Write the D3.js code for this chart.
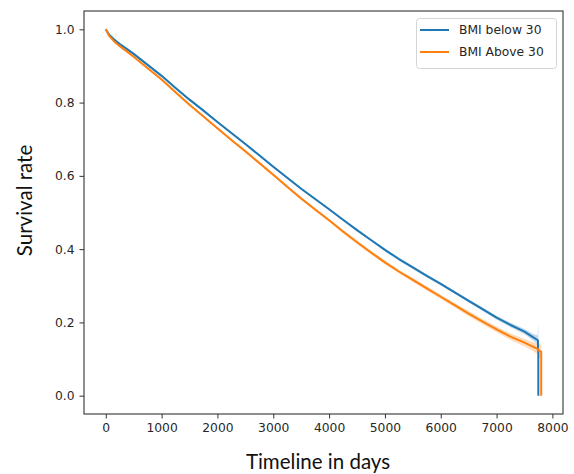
<!DOCTYPE html>
<html>
<head>
<meta charset="utf-8">
<script src="https://cdn.jsdelivr.net/npm/d3@7"></script>
<style>
  html, body { margin: 0; padding: 0; background: #fff; }
  svg { display: block; }
</style>
</head>
<body>
<svg id="chart" width="574" height="474"></svg>
<script>
// ---- Data ----
const xTicks = [0, 1000, 2000, 3000, 4000, 5000, 6000, 7000, 8000];
const yTicks = [0.0, 0.2, 0.4, 0.6, 0.8, 1.0];
const seriesNames = ["BMI below 30", "BMI Above 30"];

const daysBelow30 = [0, 60, 150, 250, 400, 500, 750, 1000, 1250, 1500, 1750, 2000, 2250, 2500, 2750, 3000, 3250, 3500, 3750, 4000, 4250, 4500, 4750, 5000, 5250, 5500, 5750, 6000, 6250, 6500, 6750, 7000, 7250, 7500, 7650, 7735, 7742, 7742, 7748, 7748];
const survBelow30 = [1.000, 0.985, 0.972, 0.960, 0.944, 0.933, 0.903, 0.873, 0.840, 0.808, 0.778, 0.747, 0.717, 0.687, 0.656, 0.625, 0.595, 0.565, 0.537, 0.509, 0.480, 0.452, 0.425, 0.398, 0.373, 0.350, 0.327, 0.305, 0.282, 0.259, 0.236, 0.213, 0.193, 0.175, 0.160, 0.152, 0.150, 0.125, 0.125, 0.000];
const ciBelow30 = [0.000, 0.002, 0.002, 0.003, 0.003, 0.003, 0.003, 0.003, 0.003, 0.003, 0.003, 0.003, 0.003, 0.003, 0.003, 0.003, 0.003, 0.003, 0.003, 0.003, 0.003, 0.003, 0.003, 0.004, 0.004, 0.004, 0.004, 0.004, 0.004, 0.004, 0.005, 0.005, 0.006, 0.007, 0.009, 0.012, 0.030, 0.060, 0.070, 0.000];

const daysAbove30 = [0, 60, 150, 250, 400, 500, 750, 1000, 1250, 1500, 1750, 2000, 2250, 2500, 2750, 3000, 3250, 3500, 3750, 4000, 4250, 4500, 4750, 5000, 5250, 5500, 5750, 6000, 6250, 6500, 6750, 7000, 7250, 7500, 7650, 7740, 7760, 7800, 7800];
const survAbove30 = [1.000, 0.982, 0.967, 0.954, 0.937, 0.925, 0.894, 0.863, 0.828, 0.794, 0.762, 0.730, 0.698, 0.667, 0.635, 0.603, 0.570, 0.538, 0.508, 0.479, 0.448, 0.419, 0.391, 0.364, 0.339, 0.316, 0.293, 0.270, 0.247, 0.224, 0.202, 0.181, 0.161, 0.145, 0.134, 0.127, 0.123, 0.120, 0.000];
const ciAbove30 = [0.000, 0.002, 0.002, 0.003, 0.003, 0.003, 0.003, 0.003, 0.003, 0.003, 0.003, 0.003, 0.003, 0.004, 0.004, 0.004, 0.004, 0.004, 0.004, 0.004, 0.005, 0.005, 0.005, 0.005, 0.005, 0.006, 0.006, 0.006, 0.006, 0.007, 0.007, 0.008, 0.009, 0.010, 0.012, 0.014, 0.018, 0.020, 0.000];

// ---- Layout ----
const svg = d3.select("#chart");
const plot = { left: 84, top: 11, right: 563, bottom: 414 };
const colors = ["#1f77b4", "#ff7f0e"];

const x = d3.scaleLinear().domain([-390, 8190]).range([plot.left, plot.right]);
const y = d3.scaleLinear().domain([-0.05, 1.05]).range([plot.bottom, plot.top]);

const series = [
  { name: seriesNames[0], days: daysBelow30, surv: survBelow30, ci: ciBelow30, color: colors[0] },
  { name: seriesNames[1], days: daysAbove30, surv: survAbove30, ci: ciAbove30, color: colors[1] }
];

const area = d3.area()
  .x(d => x(d.t))
  .y0(d => y(d.s - d.c))
  .y1(d => y(d.s + d.c));
const line = d3.line().x(d => x(d.t)).y(d => y(d.s));

const g = svg.append("g");
series.forEach(s => {
  const pts = s.days.map((t, i) => ({ t, s: s.surv[i], c: s.ci[i] }));
  g.append("path").datum(pts).attr("d", area)
    .attr("fill", s.color).attr("fill-opacity", 0.28).attr("stroke", "none");
});
series.forEach(s => {
  const pts = s.days.map((t, i) => ({ t, s: s.surv[i], c: s.ci[i] }));
  g.append("path").datum(pts).attr("d", line)
    .attr("fill", "none").attr("stroke", s.color).attr("stroke-width", 2)
    .attr("stroke-linejoin", "round");
});

// ---- Axes ----
const tickFont = "DejaVu Sans, sans-serif";
const xAxis = d3.axisBottom(x).tickValues(xTicks).tickFormat(d3.format("d")).tickSizeOuter(0).tickSize(4.5).tickPadding(5);
const yAxis = d3.axisLeft(y).tickValues(yTicks).tickFormat(d3.format(".1f")).tickSizeOuter(0).tickSize(4.5).tickPadding(5);

const gx = svg.append("g").attr("transform", `translate(0,${plot.bottom})`).call(xAxis);
const gy = svg.append("g").attr("transform", `translate(${plot.left},0)`).call(yAxis);
[gx, gy].forEach(a => {
  a.select(".domain").remove();
  a.selectAll(".tick line").attr("stroke", "#333").attr("stroke-width", 1);
  a.selectAll(".tick text").attr("font-family", tickFont).attr("font-size", 12.3).attr("fill", "#262626");
});

// Frame
svg.append("rect")
  .attr("x", plot.left).attr("y", plot.top)
  .attr("width", plot.right - plot.left).attr("height", plot.bottom - plot.top)
  .attr("fill", "none").attr("stroke", "#333").attr("stroke-width", 1.1);

// Axis titles
svg.append("text")
  .attr("x", 318).attr("y", 469)
  .attr("text-anchor", "middle")
  .attr("font-family", "Lato, 'Open Sans', sans-serif")
  .attr("font-size", 20.5)
  .attr("fill", "#111")
  .text("Timeline in days");

svg.append("text")
  .attr("transform", "translate(32,200.5) rotate(-90)")
  .attr("text-anchor", "middle")
  .attr("font-family", "Lato, 'Open Sans', sans-serif")
  .attr("font-size", 20.5)
  .attr("fill", "#111")
  .text("Survival rate");

// ---- Legend ----
const lg = svg.append("g");
lg.append("rect")
  .attr("x", 416.5).attr("y", 18.5).attr("width", 140).attr("height", 50)
  .attr("rx", 3).attr("fill", "#fff").attr("fill-opacity", 0.8)
  .attr("stroke", "#d5d5d5").attr("stroke-width", 1);
series.forEach((s, i) => {
  const yy = 30 + i * 22;
  lg.append("line").attr("x1", 420).attr("x2", 449).attr("y1", yy).attr("y2", yy)
    .attr("stroke", s.color).attr("stroke-width", 2);
  lg.append("text").attr("x", 459).attr("y", yy).attr("dy", "0.35em")
    .attr("font-family", tickFont).attr("font-size", 12.3).attr("fill", "#262626")
    .text(s.name);
});
</script>
</body>
</html>
